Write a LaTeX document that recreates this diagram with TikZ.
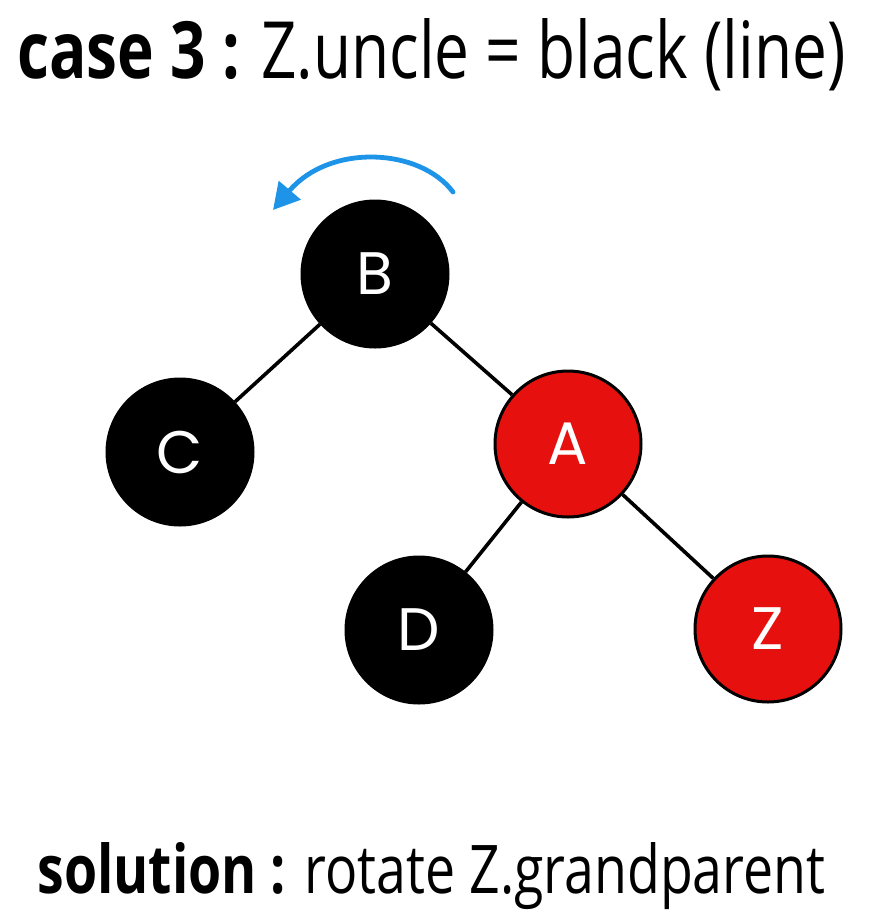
\documentclass[tikz,border=0pt]{standalone}
\usepackage{fontspec}
\setmainfont{Open Sans}
\newfontfamily\keyfont{Poppins}
\usetikzlibrary{arrows.meta}

\definecolor{nodered}{RGB}{230,17,14}
\definecolor{spinblue}{RGB}{30,148,232}

\begin{document}
\begin{tikzpicture}[
        x=0.5pt,y=-0.5pt,
        rbnode/.style={circle,draw=black,line width=1.5pt,minimum size=73pt,
            inner sep=0pt,text=white,font=\keyfont\fontsize{30}{30}\selectfont},
        blacknode/.style={rbnode,fill=black},
        rednode/.style={rbnode,fill=nodered},
        link/.style={line width=1.8pt},
        caption/.style={anchor=base west,inner sep=0pt}
    ]
    \useasboundingbox (0,0) rectangle (877,923);

    % Heading
    \node[caption] (heading) at (17,78)
        {\resizebox{414pt}{30pt}{\textbf{case 3 :} Z.uncle = black (line)}};

    % Tree
    \node[blacknode] (B) at (375,274) {B};
    \node[blacknode] (C) at (180,452) {C};
    \node[rednode]   (A) at (568,444) {A};
    \node[blacknode] (D) at (419,630) {D};
    \node[rednode]   (Z) at (768,629) {Z};

    \draw[link] (B) -- (C);
    \draw[link] (B) -- (A);
    \draw[link] (A) -- (D);
    \draw[link] (A) -- (Z);

    % Rotation arrow
    \coordinate (spinstart) at (453,192);
    \coordinate (spinend) at (273,210);
    \draw[spinblue,line width=2.4pt,line cap=round,
        -{Triangle[length=13pt,width=14pt]}]
        (spinstart) .. controls (420,148) and (330,143) .. (spinend);

    % Solution
    \node[caption] (solution) at (37,893)
        {\resizebox{394pt}{25.5pt}{\textbf{solution :} rotate Z.grandparent}};

\end{tikzpicture}
\end{document}
